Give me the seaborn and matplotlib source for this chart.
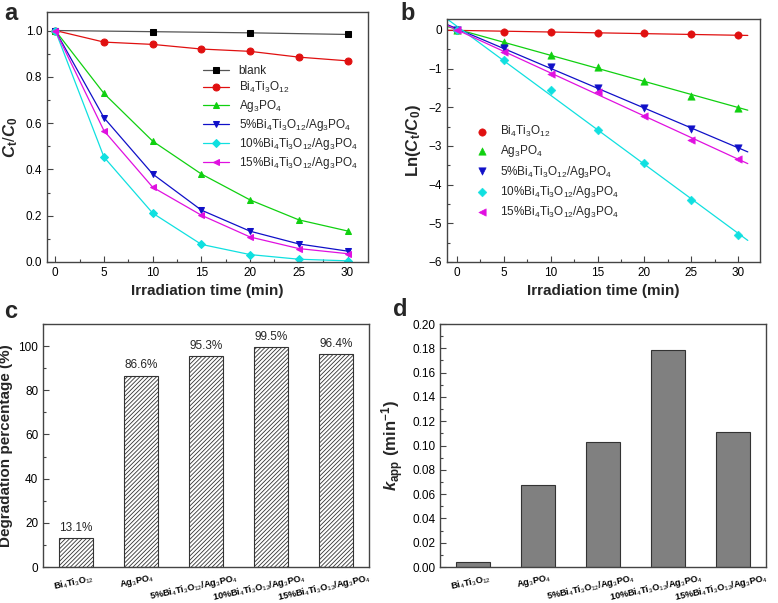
import matplotlib
matplotlib.use('Agg')
import matplotlib.pyplot as plt
import matplotlib.transforms as mtransforms
import seaborn as sns
import numpy as np
import pandas as pd

# data
time = [0, 5, 10, 15, 20, 25, 30]
blank_time = [0, 10, 20, 30]
blank = [1.0, 0.995, 0.99, 0.983]
bto = [1.0, 0.95, 0.94, 0.92, 0.91, 0.885, 0.869]
apo = [1.0, 0.728, 0.522, 0.38, 0.268, 0.182, 0.134]
c5 = [1.0, 0.623, 0.38, 0.224, 0.133, 0.078, 0.047]
c10 = [1.0, 0.453, 0.211, 0.076, 0.032, 0.012, 0.005]
c15 = [1.0, 0.567, 0.323, 0.202, 0.108, 0.058, 0.036]

ln_bto = [0, -0.05, -0.06, -0.08, -0.09, -0.12, -0.14]
ln_apo = [0, -0.32, -0.65, -0.97, -1.32, -1.70, -2.01]
ln_c5 = [0, -0.47, -0.97, -1.50, -2.02, -2.55, -3.06]
ln_c10 = [0, -0.79, -1.56, -2.58, -3.44, -4.41, -5.30]
ln_c15 = [0, -0.57, -1.13, -1.60, -2.23, -2.84, -3.33]

samples = [r'Bi$_4$Ti$_3$O$_{12}$', r'Ag$_3$PO$_4$',
           r'5%Bi$_4$Ti$_3$O$_{12}$/Ag$_3$PO$_4$',
           r'10%Bi$_4$Ti$_3$O$_{12}$/Ag$_3$PO$_4$',
           r'15%Bi$_4$Ti$_3$O$_{12}$/Ag$_3$PO$_4$']
degradation = [13.1, 86.6, 95.3, 99.5, 96.4]
kapp = [0.0045, 0.0676, 0.1025, 0.179, 0.1115]

colors = ['#e01010', '#10d010', '#1010c8', '#10e0e0', '#e010e0']
markers = ['o', '^', 'v', 'D', '<']

sns.set_style('ticks')
plt.rcParams['font.family'] = ['Liberation Sans', 'DejaVu Sans']
plt.rcParams['mathtext.fontset'] = 'custom'
plt.rcParams['mathtext.rm'] = 'Liberation Sans'
plt.rcParams['mathtext.it'] = 'Liberation Sans:italic'
plt.rcParams['mathtext.bf'] = 'Liberation Sans:bold'
plt.rcParams['mathtext.bfit'] = 'Liberation Sans:italic:bold'
plt.rcParams['xtick.direction'] = 'in'
plt.rcParams['ytick.direction'] = 'in'
plt.rcParams['axes.edgecolor'] = '#444444'
plt.rcParams['xtick.color'] = '#444444'
plt.rcParams['ytick.color'] = '#444444'
plt.rcParams['xtick.labelcolor'] = 'black'
plt.rcParams['ytick.labelcolor'] = 'black'
plt.rcParams['hatch.linewidth'] = 0.6
plt.rcParams['hatch.color'] = '#555555'

fig = plt.figure(figsize=(7.78, 6.03), dpi=100)
W, H = 778, 603


def add_ax(l, t, r, b):
    return fig.add_axes([l / W, 1 - b / H, (r - l) / W, (b - t) / H])


def style_ax(ax):
    for s in ax.spines.values():
        s.set_linewidth(1.0)
    ax.tick_params(which='major', length=4, width=0.8, labelsize=8.5)
    ax.tick_params(which='minor', length=2.5, width=0.8)


def bar_labels(ax):
    shifts = [-2, -4, -12, -12, -12]
    for lab, dx in zip(ax.get_xticklabels(), shifts):
        lab.set_rotation(12)
        lab.set_fontsize(6.6)
        lab.set_fontweight('bold')
        lab.set_transform(lab.get_transform() +
                          mtransforms.ScaledTranslation(dx / 100, 0, fig.dpi_scale_trans))


# ---- panel a ----
ax1 = add_ax(47, 12, 368, 262)
sns.lineplot(x=blank_time, y=blank, ax=ax1, color='#555555', marker='s',
             markerfacecolor='black', markeredgecolor='black', markersize=4.5,
             linewidth=0.9, label='blank')
for i, ys in enumerate([bto, apo, c5, c10, c15]):
    sns.lineplot(x=time, y=ys, ax=ax1, color=colors[i], marker=markers[i],
                 markeredgecolor=colors[i], markersize=5 if markers[i] != 'D' else 4,
                 linewidth=0.9, label=samples[i])
ax1.set_xlim(-0.85, 32.1)
ax1.set_ylim(0, 1.08)
ax1.set_xticks(time)
ax1.set_xticks(np.arange(0, 32, 2.5), minor=True)
ax1.set_yticks([0, 0.2, 0.4, 0.6, 0.8, 1.0])
ax1.set_yticks(np.arange(0, 1.05, 0.1), minor=True)
ax1.yaxis.set_major_formatter(matplotlib.ticker.FormatStrFormatter('%.1f'))
ax1.set_xlabel('Irradiation time (min)', fontsize=11, fontweight='bold')
ax1.set_ylabel(r'$\mathbfit{C}_\mathbf{t}/\mathbfit{C}_\mathbf{0}$', fontsize=12)
style_ax(ax1)
ax1.legend(loc='center right', bbox_to_anchor=(1.0, 0.575), frameon=False,
           fontsize=8.5, handlelength=2.2, labelspacing=0.25)

# ---- panel b ----
ax2 = add_ax(447, 19, 760, 262)
xfit = np.array([-1, 31])
for i, ys in enumerate([ln_bto, ln_apo, ln_c5, ln_c10, ln_c15]):
    k, b0 = np.polyfit(time, ys, 1)
    sns.lineplot(x=xfit, y=k * xfit + b0, ax=ax2, color=colors[i], linewidth=0.9)
    sns.scatterplot(x=time, y=ys, ax=ax2, color=colors[i], marker=markers[i],
                    s=28 if markers[i] != 'D' else 20, edgecolor=colors[i],
                    label=samples[i], zorder=3)
ax2.set_xlim(-1.03, 32.3)
ax2.set_ylim(-6, 0.28)
ax2.set_xticks(time)
ax2.set_xticks(np.arange(0, 32, 2.5), minor=True)
ax2.set_yticks(range(-6, 1))
ax2.set_yticks(np.arange(-6, 0.1, 0.5), minor=True)
ax2.set_xlabel('Irradiation time (min)', fontsize=11, fontweight='bold')
ax2.set_ylabel(r'$\mathbf{Ln(}\mathbfit{C}_\mathbf{t}\mathbf{/}\mathbfit{C}_\mathbf{0}\mathbf{)}$', fontsize=12)
style_ax(ax2)
ax2.legend(loc='lower left', bbox_to_anchor=(0.05, 0.13), frameon=False,
           fontsize=8.5, handlelength=1.5, labelspacing=0.35)

# ---- panel c ----
ax3 = add_ax(43, 324, 369, 567)
df_c = pd.DataFrame({'sample': samples, 'deg': degradation})
sns.barplot(data=df_c, x='sample', y='deg', ax=ax3, color='white',
            edgecolor='#333333', linewidth=0.8, width=0.52, hatch='////////')
for p, v in zip(ax3.patches, degradation):
    ax3.text(p.get_x() + p.get_width() / 2, v + 2, f'{v}%', ha='center',
             va='bottom', fontsize=8.5)
ax3.set_ylim(0, 110)
ax3.set_yticks(range(0, 101, 20))
ax3.set_yticks(range(0, 111, 10), minor=True)
ax3.set_xlabel('')
ax3.set_ylabel('Degradation percentage (%)', fontsize=11, fontweight='bold')
style_ax(ax3)
ax3.tick_params(axis='x', which='both', length=0)
bar_labels(ax3)

# ---- panel d ----
ax4 = add_ax(440, 324, 766, 567)
df_d = pd.DataFrame({'sample': samples, 'k': kapp})
sns.barplot(data=df_d, x='sample', y='k', ax=ax4, color='#808080',
            edgecolor='#333333', linewidth=0.8, width=0.52, saturation=1)
ax4.set_ylim(0, 0.2)
ax4.set_yticks(np.arange(0, 0.201, 0.02))
ax4.set_yticks(np.arange(0, 0.201, 0.01), minor=True)
ax4.yaxis.set_major_formatter(matplotlib.ticker.FormatStrFormatter('%.2f'))
ax4.set_xlabel('')
ax4.set_ylabel(r'$\mathbfit{k}_\mathbf{app}$ $\mathbf{(min^{-1})}$', fontsize=12)
style_ax(ax4)
ax4.tick_params(axis='x', which='both', length=0)
bar_labels(ax4)

for lab, (x, y) in zip('abcd', [(4, 2), (400, 2), (4, 300), (393, 298)]):
    fig.text(x / W, 1 - y / H, lab, fontsize=17, fontweight='bold', va='top')

fig.savefig('out.png', dpi=100)
